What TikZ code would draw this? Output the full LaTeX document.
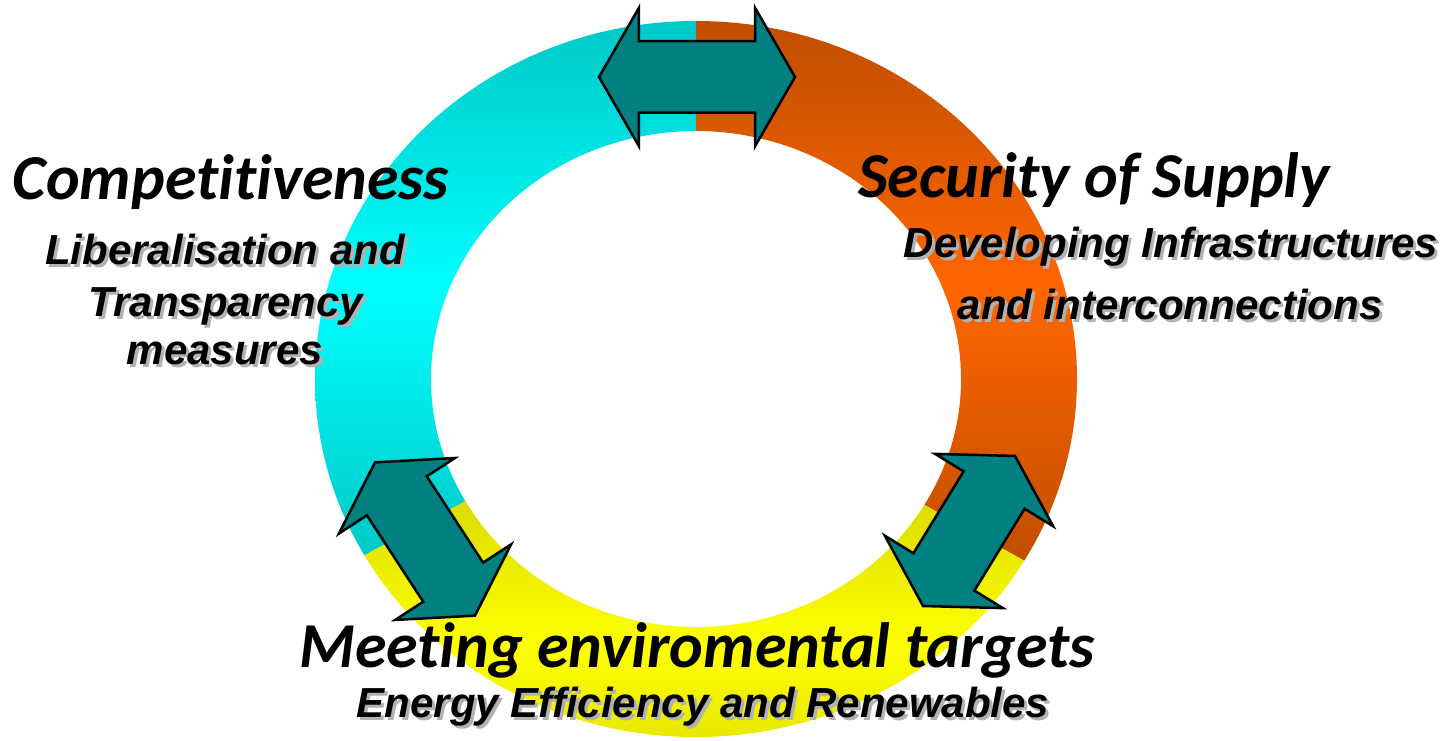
\documentclass[tikz,border=0pt]{standalone}
\usepackage{fontspec}
\usetikzlibrary{shapes.arrows}

\newfontfamily\headfont{Carlito}[Ligatures={NoCommon,NoContextual}, Contextuals=NoAlternate]
\newfontfamily\subfont{Liberation Sans}

\definecolor{ringcyan}{RGB}{0,255,255}
\definecolor{ringcyandark}{RGB}{0,200,200}
\definecolor{ringorange}{RGB}{255,102,0}
\definecolor{ringorangedark}{RGB}{192,78,0}
\definecolor{ringyellow}{RGB}{255,255,0}
\definecolor{ringyellowdark}{RGB}{220,220,0}
\definecolor{arrowteal}{RGB}{0,128,128}

\newcommand{\shadowed}[1]{\makebox[0pt][l]{\hspace{3pt}\raisebox{-3pt}{\textcolor{black!30}{#1}}}#1}

\begin{document}
\begin{tikzpicture}[x=1pt,y=1pt,
  heading/.style={font=\headfont\bfseries\itshape\fontsize{64}{72}\selectfont, inner sep=0, anchor=base},
  subline/.style={font=\subfont\bfseries\itshape\fontsize{42}{50}\selectfont, inner sep=0, anchor=base},
  twoway/.style={double arrow, draw=black, line width=2.5pt, fill=arrowteal,
    double arrow tip angle=120, double arrow head extend=33.5pt, inner xsep=0pt, inner ysep=34.5pt}]
\useasboundingbox (0,0) rectangle (1449,741);

\begin{scope}[shift={(696,362)}]
\shade[top color=ringcyandark, bottom color=ringcyandark, middle color=ringcyan]
  (90:381 and 358) arc[start angle=90, end angle=209.5, x radius=381, y radius=358]
  -- (209.5:265 and 248) arc[start angle=209.5, end angle=90, x radius=265, y radius=248] -- cycle;
\shade[top color=ringorangedark, bottom color=ringorangedark, middle color=ringorange]
  (90:381 and 358) arc[start angle=90, end angle=-30.5, x radius=381, y radius=358]
  -- (-30.5:265 and 248) arc[start angle=-30.5, end angle=90, x radius=265, y radius=248] -- cycle;
\shade[top color=ringyellowdark, bottom color=ringyellowdark, middle color=ringyellow]
  (-30.5:381 and 358) arc[start angle=-30.5, end angle=-150.5, x radius=381, y radius=358]
  -- (-150.5:265 and 248) arc[start angle=-150.5, end angle=-30.5, x radius=265, y radius=248] -- cycle;
\end{scope}

\node (topArrow) [twoway, minimum height=196] at (697,664) {};
\node (leftArrow) [twoway, minimum height=183, rotate=-56.9] at (425,202) {};
\node (rightArrow) [twoway, minimum height=176, rotate=58.5] at (969,210) {};

\node (competitiveness) [heading] at (231,541) {Competitiveness};
\node (liberal1) [subline] at (225,476) {\shadowed{Liberalisation and}};
\node (liberal2) [subline] at (226,424) {\shadowed{Transparency}};
\node (liberal3) [subline] at (225,376) {\shadowed{measures}};

\node (security) [heading] at (1094,543) {Security of Supply};
\node (infra1) [subline] at (1171,483) {\shadowed{Developing Infrastructures}};
\node (infra2) [subline] at (1170,421) {\shadowed{and interconnections}};

\node (environment) [heading] at (697,73) {Meeting enviromental targets};
\node (efficiency) [subline] at (703,23) {\shadowed{Energy Efficiency and Renewables}};
\end{tikzpicture}
\end{document}
